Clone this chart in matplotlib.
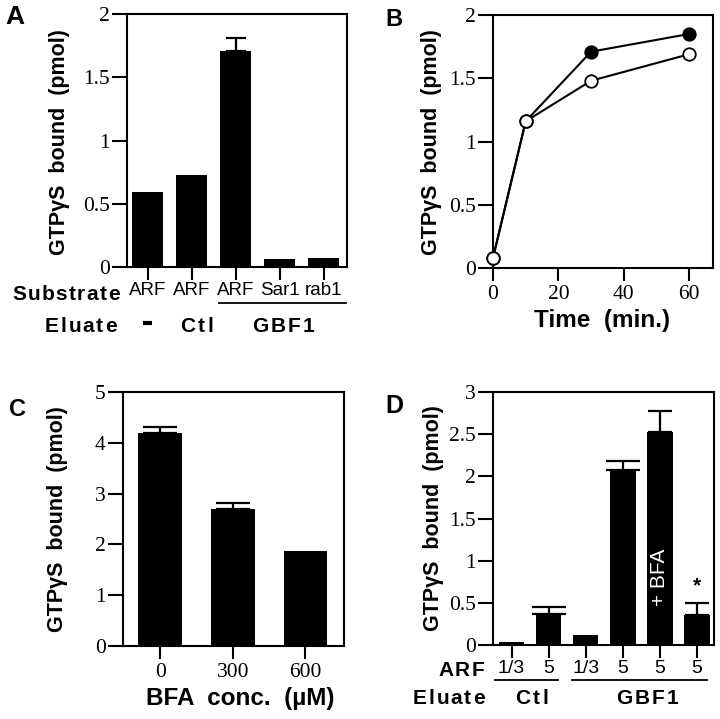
import matplotlib
matplotlib.use("Agg")
import matplotlib.pyplot as plt
import numpy as np
from matplotlib import transforms
from matplotlib.font_manager import FontProperties
from matplotlib.textpath import TextToPath

W, H = 720, 719
DPI = 100
fig = plt.figure(figsize=(7.2, 7.19), dpi=DPI)

SERIF = "Liberation Serif"
SANS = "Liberation Sans"

# ---------------- data ----------------
a_substrate = ["ARF", "ARF", "ARF", "Sar1", "rab1"]
a_values = [0.59, 0.73, 1.71, 0.06, 0.07]
a_err = [0, 0, 0.10, 0, 0]
a_yticks = [0, 0.5, 1, 1.5, 2]
a_yticklabels = ["0", "0.5", "1", "1.5", "2"]

b_time = [0, 10, 30, 60]
b_filled = [0.08, 1.16, 1.71, 1.85]
b_open = [0.08, 1.16, 1.48, 1.69]
b_xticks = [0, 20, 40, 60]

c_conc = ["0", "300", "600"]
c_values = [4.20, 2.70, 1.87]
c_err = [0.12, 0.12, 0]
c_yticks = [0, 1, 2, 3, 4, 5]

d_arf = ["1/3", "5", "1/3", "5", "5", "5"]
d_values = [0.04, 0.37, 0.12, 2.07, 2.53, 0.36]
d_err = [0, 0.08, 0, 0.11, 0.25, 0.14]
d_yticks = [0, 0.5, 1, 1.5, 2, 2.5, 3]
d_yticklabels = ["0", "0.5", "1", "1.5", "2", "2.5", "3"]


def add_ax(l, t, r, b):
    return fig.add_axes([l / W, 1 - b / H, (r - l) / W, (b - t) / H])


def fx(px):
    return px / W


def fy(py):
    return 1 - py / H


_t2p = TextToPath()


def spaced_text(x_px, y_px, s, size=15, spacing=2.0, ha="left",
                family=SANS, weight="bold"):
    """Draw letter-spaced text at figure pixel coords (x_px, y_px = center)."""
    prop = FontProperties(family=family, weight=weight, size=size)
    widths = []
    for ch in s:
        if ch == " ":
            w, _, _ = _t2p.get_text_width_height_descent("a a", prop, ismath=False)
            w2, _, _ = _t2p.get_text_width_height_descent("aa", prop, ismath=False)
            w = w - w2
        else:
            w, _, _ = _t2p.get_text_width_height_descent(ch, prop, ismath=False)
        widths.append(w * DPI / 72.0)
    total = sum(widths) + spacing * (len(s) - 1)
    if ha == "center":
        x0 = x_px - total / 2
    elif ha == "right":
        x0 = x_px - total
    else:
        x0 = x_px
    x = x0
    for ch, w in zip(s, widths):
        if ch != " ":
            fig.text(fx(x), fy(y_px), ch, fontproperties=prop, ha="left",
                     va="center_baseline")
        x += w + spacing


def style(ax, ticklen=11):
    for s in ax.spines.values():
        s.set_linewidth(1.5)
    ax.tick_params(axis="both", direction="out", length=ticklen, width=1.5,
                   top=False, right=False, pad=1.5)
    for lab in ax.get_yticklabels():
        lab.set_fontfamily(SERIF)
        lab.set_fontsize(15.5)


YLABEL = "GTPγS  bound  (pmol)"
ylab_kw = dict(fontfamily=SANS, fontweight="bold", fontsize=15.5, rotation=90,
               ha="center", va="center")
xlab_kw = dict(fontfamily=SANS, fontweight="bold", fontsize=17.5, va="center")
err_kw = dict(fmt="none", ecolor="black", elinewidth=1.6, capthick=1.6)


def letter(x, y, s, size):
    fig.text(fx(x), fy(y), s, fontfamily=SANS, fontweight="bold", fontsize=size,
             ha="center", va="center")


# ---------------- Panel A ----------------
axA = add_ax(127, 14, 347, 267)
xa = np.arange(len(a_values))
axA.bar(xa, a_values, width=0.7, color="black")
axA.errorbar(xa[2], a_values[2], yerr=[[0], [a_err[2]]], capsize=7, **err_kw)
axA.set_xlim(-0.47, 4.53)
axA.set_ylim(0, 2)
axA.set_yticks(a_yticks)
axA.set_yticklabels(a_yticklabels)
axA.set_xticks(xa)
axA.set_xticklabels(a_substrate, fontfamily=SANS, fontsize=13.5)
style(axA)
axA.tick_params(axis="x", length=9, pad=1.5)
fig.text(fx(59), fy(142), YLABEL, **ylab_kw)
letter(15, 17, "A", 19)
spaced_text(12, 292, "Substrate", size=15, spacing=1.4)
spaced_text(45, 325, "Eluate", size=15, spacing=1.8)
tA = transforms.blended_transform_factory(axA.transData, fig.transFigure)
axA.plot([-0.1, 0.1], [fy(323), fy(323)], transform=tA, color="black",
         lw=3.0, solid_capstyle="butt", clip_on=False)
spaced_text(197, 325, "Ctl", size=15, spacing=2.5, ha="center")
spaced_text(283, 325, "GBF1", size=15, spacing=2.0, ha="center")
axA.plot([1.62, 4.5], [fy(303), fy(303)], transform=tA, color="black",
         lw=1.3, clip_on=False)

# ---------------- Panel B ----------------
axB = add_ax(493, 15, 713, 268)
axB.plot(b_time, b_filled, color="black", lw=1.5, marker="o", ms=9,
         mfc="black", mec="black", mew=1.3, zorder=3, clip_on=False)
axB.plot(b_time, b_open, color="black", lw=1.5, marker="o", ms=9,
         mfc="white", mec="black", mew=1.3, zorder=4, clip_on=False)
axB.set_xlim(0, 67.3)
axB.set_ylim(0, 2)
axB.set_xticks(b_xticks)
axB.set_yticks(a_yticks)
axB.set_yticklabels(a_yticklabels)
style(axB)
for lab in axB.get_xticklabels():
    lab.set_fontfamily(SERIF)
    lab.set_fontsize(15.5)
axB.tick_params(axis="x", length=9, pad=3)
fig.text(fx(432), fy(142), YLABEL, **ylab_kw)
letter(394, 20, "B", 17)
fig.text(fx(602), fy(320), "Time  (min.)", ha="center", **xlab_kw)

# ---------------- Panel C ----------------
axC = add_ax(123, 392, 344, 646)
xc = np.arange(len(c_values))
axC.bar(xc, c_values, width=0.6, color="black")
axC.errorbar(xc[:2], c_values[:2], yerr=[[0, 0], c_err[:2]], capsize=12, **err_kw)
axC.set_xlim(-0.51, 2.53)
axC.set_ylim(0, 5)
axC.set_yticks(c_yticks)
axC.set_xticks(xc)
axC.set_xticklabels(c_conc, fontfamily=SERIF, fontsize=15.5)
style(axC)
axC.tick_params(axis="x", length=9, pad=3)
fig.text(fx(58), fy(519), YLABEL, **ylab_kw)
letter(17, 409, "C", 17)
fig.text(fx(240), fy(698), "BFA  conc.  (µM)", ha="center", **xlab_kw)

# ---------------- Panel D ----------------
axD = add_ax(493, 392, 714, 645)
xd = np.arange(len(d_values))
axD.bar(xd, d_values, width=0.69, color="black")
idx1 = [1, 3]
idx2 = [4, 5]
axD.errorbar(xd[idx1], np.array(d_values)[idx1],
             yerr=[np.zeros(2), np.array(d_err)[idx1]], capsize=12, **err_kw)
axD.errorbar(xd[idx2], np.array(d_values)[idx2],
             yerr=[np.zeros(2), np.array(d_err)[idx2]], capsize=8.5, **err_kw)
axD.set_xlim(-0.5, 5.46)
axD.set_ylim(0, 3)
axD.set_yticks(d_yticks)
axD.set_yticklabels(d_yticklabels)
axD.set_xticks(xd)
axD.set_xticklabels(d_arf, fontfamily=SANS, fontsize=14)
style(axD)
axD.tick_params(axis="x", length=9, pad=2)
axD.text(4, 0.80, "+ BFA", color="white", rotation=90, ha="center",
         va="center", fontfamily=SANS, fontsize=15)
axD.text(5, 0.70, "*", color="black", ha="center", va="center",
         fontfamily=SANS, fontweight="bold", fontsize=15)
fig.text(fx(433), fy(518), YLABEL, **ylab_kw)
letter(394, 406, "D", 18)
spaced_text(438, 668, "ARF", size=15, spacing=2.0)
spaced_text(413, 697, "Eluate", size=15, spacing=1.8)
spaced_text(532, 697, "Ctl", size=15, spacing=2.5, ha="center")
spaced_text(647, 697, "GBF1", size=15, spacing=2.0, ha="center")
tD = transforms.blended_transform_factory(axD.transData, fig.transFigure)
axD.plot([-0.45, 1.24], [fy(680), fy(680)], transform=tD, color="black",
         lw=1.3, clip_on=False)
axD.plot([1.64, 5.27], [fy(680), fy(680)], transform=tD, color="black",
         lw=1.3, clip_on=False)

fig.savefig("out.png", dpi=DPI)
